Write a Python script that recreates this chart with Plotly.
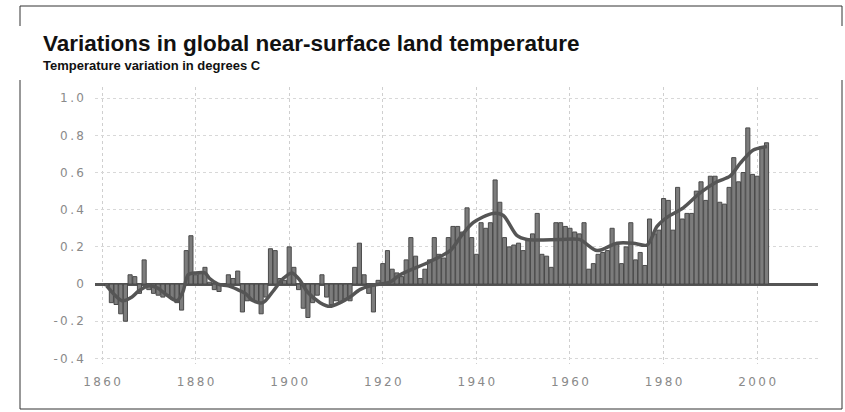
import plotly.graph_objects as go

# ---- data ----
years = list(range(1861, 2003))
anomaly = [
    -0.01, -0.10, -0.11, -0.16, -0.20, 0.05, 0.04, -0.05, 0.13, -0.03,   # 1861-1870
    -0.05, -0.06, -0.07, -0.06, -0.08, -0.10, -0.14, 0.18, 0.26, 0.05,   # 1871-1880
    0.06, 0.09, 0.01, -0.03, -0.04, 0.00, 0.05, 0.03, 0.07, -0.15,       # 1881-1890
    -0.09, -0.09, -0.10, -0.16, -0.07, 0.19, 0.18, 0.03, 0.02, 0.20,     # 1891-1900
    0.09, -0.03, -0.13, -0.18, -0.10, -0.06, 0.05, -0.07, -0.11, -0.09,  # 1901-1910
    -0.10, -0.08, -0.09, 0.09, 0.22, 0.05, -0.05, -0.15, 0.02, 0.11,     # 1911-1920
    0.18, 0.08, 0.06, 0.04, 0.13, 0.25, 0.15, 0.03, 0.08, 0.13,          # 1921-1930
    0.25, 0.16, 0.14, 0.25, 0.31, 0.31, 0.28, 0.41, 0.25, 0.16,          # 1931-1940
    0.33, 0.30, 0.33, 0.56, 0.44, 0.25, 0.20, 0.21, 0.22, 0.18,          # 1941-1950
    0.24, 0.27, 0.38, 0.16, 0.15, 0.09, 0.33, 0.33, 0.31, 0.30,          # 1951-1960
    0.28, 0.27, 0.33, 0.08, 0.11, 0.16, 0.17, 0.18, 0.30, 0.22,          # 1961-1970
    0.11, 0.20, 0.33, 0.13, 0.17, 0.10, 0.35, 0.27, 0.29, 0.46,          # 1971-1980
    0.45, 0.29, 0.52, 0.35, 0.38, 0.38, 0.50, 0.55, 0.45, 0.58,          # 1981-1990
    0.58, 0.44, 0.43, 0.52, 0.68, 0.55, 0.60, 0.84, 0.59, 0.58,          # 1991-2000
    0.74, 0.76,                                                          # 2001-2002
]

smooth_years = [1861, 1864.3, 1866.4, 1867.7, 1869.8, 1871.8, 1873.9, 1876, 1877.3,
                1878.4, 1880, 1882, 1883, 1884.8, 1887, 1889, 1890.6, 1892.3,
                1894.4, 1896.5, 1898.7, 1900.6, 1902.3, 1903.8, 1906.6, 1908.7,
                1910.9, 1913, 1915.1, 1917.3, 1919.4, 1921.5, 1923.7, 1930,
                1934.4, 1936.5, 1939.3, 1943.5, 1945.7, 1948.7, 1950.8, 1957.9,
                1962, 1965.8, 1970, 1973.5, 1976.5, 1978.6, 1980.8, 1984.2,
                1987.8, 1991.4, 1994.2, 1996.4, 1999.1, 2002.1]
smooth_values = [-0.01, -0.09, -0.07, -0.04, -0.01, -0.02, -0.06, -0.09, -0.04,
                 0.05, 0.06, 0.06, 0.03, 0.00, -0.01, -0.03, -0.05, -0.09,
                 -0.10, -0.04, 0.03, 0.06, 0.02, -0.04, -0.10, -0.12,
                 -0.10, -0.07, -0.03, -0.01, 0.00, 0.01, 0.05, 0.12,
                 0.18, 0.25, 0.33, 0.38, 0.37, 0.26, 0.24, 0.24,
                 0.24, 0.18, 0.22, 0.22, 0.21, 0.31, 0.36, 0.41,
                 0.49, 0.55, 0.58, 0.65, 0.72, 0.74]

x_tick_vals = [1860, 1880, 1900, 1920, 1940, 1960, 1980, 2000]
x_tick_text = ["1860", "1880", "1900", "1920", "1940", "1960", "1980", "2000"]
y_tick_vals = [-0.4, -0.2, 0, 0.2, 0.4, 0.6, 0.8, 1.0]
y_tick_text = ["-0.4", "-0.2", "0", "0.2", "0.4", "0.6", "0.8", "1.0"]

title_text = "Variations in global near-surface land temperature"
subtitle_text = "Temperature variation in degrees C"

TS = "\u2009"  # thin space, widens the tick lettering like the reference


def spaced(s):
    return TS.join(list(s))


fig = go.Figure()
fig.add_trace(go.Bar(
    x=years, y=anomaly,
    marker=dict(color="#7c7c7c", line=dict(color="#4a4a4a", width=1)),
    showlegend=False, hoverinfo="x+y",
))
fig.add_trace(go.Scatter(
    x=smooth_years, y=smooth_values, mode="lines",
    line=dict(color="#555555", width=3.5, shape="spline", smoothing=0.8),
    showlegend=False,
))

# plot area in pixels: x 95..818, y 87..364
L, R, T, B = 95, 845 - 818, 87, 412 - 364
PW, PH = 845 - L - R, 412 - T - B


def px(xp):
    return (xp - L) / PW


def py(yp):
    return (412 - B - yp) / PH


tick_font = dict(family="DejaVu Sans, Arial, sans-serif", size=12, color="#8a8a8a")

fig.update_layout(
    width=845, height=412,
    margin=dict(l=L, r=R, t=T, b=B, pad=0),
    paper_bgcolor="white", plot_bgcolor="white",
    bargap=0.12,
    xaxis=dict(
        range=[1858.5, 2013], tickvals=x_tick_vals,
        ticktext=[spaced(t) for t in x_tick_text],
        showgrid=True, gridcolor="#cfcfcf", griddash="dot", gridwidth=1,
        showline=False, zeroline=False, ticks="",
        tickfont=tick_font, ticklabelstandoff=9,
    ),
    yaxis=dict(
        range=[-0.43, 1.06], tickvals=y_tick_vals,
        ticktext=[spaced(t) for t in y_tick_text],
        showgrid=True, gridcolor="#d8d8d8", griddash="dot", gridwidth=1,
        zeroline=True, zerolinecolor="#555555", zerolinewidth=2.5,
        showline=False, ticks="",
        tickfont=tick_font, ticklabelstandoff=10,
    ),
    shapes=[
        dict(type="rect", xref="paper", yref="paper",
             x0=px(20), x1=px(842), y0=py(409), y1=py(6),
             line=dict(color="#333333", width=1), fillcolor="rgba(0,0,0,0)", layer="below"),
        dict(type="rect", xref="paper", yref="paper",
             x0=px(0), x1=px(845), y0=py(80), y1=py(26),
             line=dict(width=0), fillcolor="white", layer="above"),
    ],
    annotations=[
        dict(text="<b>" + title_text + "</b>", xref="paper", yref="paper",
             x=px(42), y=py(30), xanchor="left", yanchor="top", showarrow=False,
             borderpad=0,
             font=dict(family="Liberation Sans, Arial, sans-serif", size=22.5, color="#111111")),
        dict(text="<b>" + subtitle_text + "</b>", xref="paper", yref="paper",
             x=px(42), y=py(57), xanchor="left", yanchor="top", showarrow=False,
             borderpad=0,
             font=dict(family="Liberation Sans, Arial, sans-serif", size=13, color="#111111")),
    ],
)

fig.write_html("out.html", config={"displayModeBar": False},
               post_script="document.body.style.margin='0px';")
